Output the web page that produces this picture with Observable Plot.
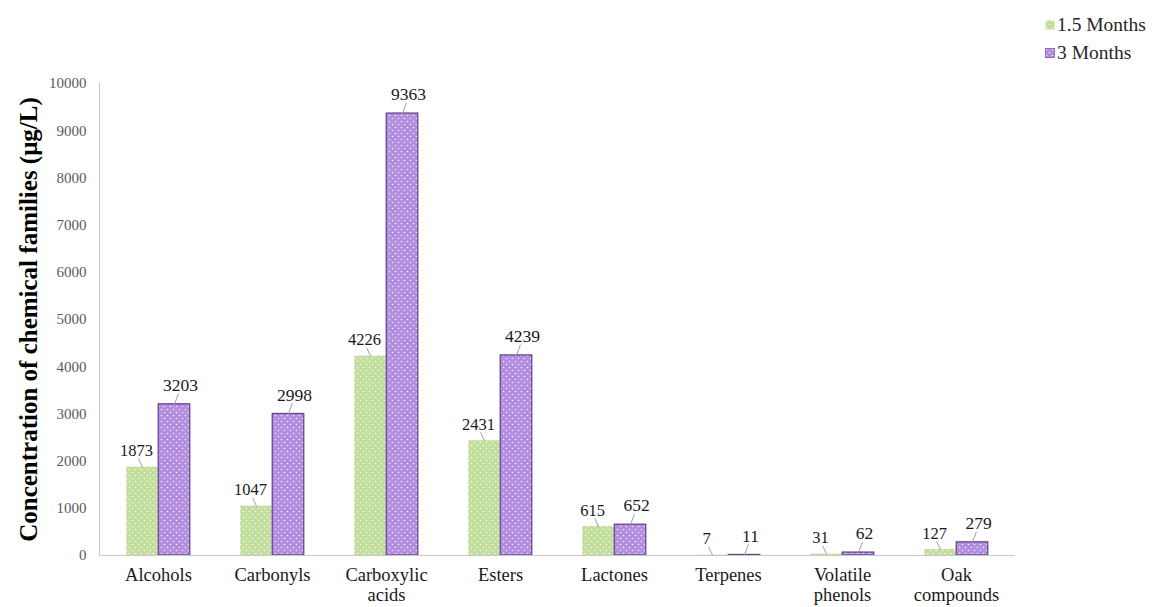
<!DOCTYPE html>
<html>
<head>
<meta charset="utf-8">
<script src="https://cdn.jsdelivr.net/npm/d3@7"></script>
<script src="https://cdn.jsdelivr.net/npm/@observablehq/plot@0.6"></script>
<style>
  body { margin: 0; background: #fff; font-family: "Liberation Serif", "Times New Roman", serif; }
  #wrap { position: relative; width: 1158px; height: 607px; }
  #legend { position: absolute; left: 1045px; top: 11px; font-size: 19.5px; color: #262626; }
  .item { display: flex; align-items: center; height: 28px; }
  .item svg { margin-right: 2px; }
</style>
</head>
<body>
<!-- dotted fills shared by the bars and the legend swatches -->
<svg width="0" height="0" style="position:absolute">
  <defs>
    <pattern id="dotsGreen" width="6" height="6" patternUnits="userSpaceOnUse">
      <rect width="6" height="6" fill="#c2de9c"/>
      <circle cx="1.5" cy="1.5" r="0.8" fill="#fff" fill-opacity="0.85"/>
      <circle cx="4.5" cy="4.5" r="0.8" fill="#fff" fill-opacity="0.85"/>
    </pattern>
    <pattern id="dotsPurple" width="6" height="6" patternUnits="userSpaceOnUse">
      <rect width="6" height="6" fill="#b38de0"/>
      <circle cx="1.5" cy="1.5" r="0.8" fill="#fff" fill-opacity="0.8"/>
      <circle cx="4.5" cy="4.5" r="0.8" fill="#fff" fill-opacity="0.8"/>
    </pattern>
  </defs>
</svg>
<div id="wrap">
  <div id="chart"></div>
  <div id="legend"></div>
</div>
<script>
// Volatile compound families and their concentrations (µg/L)
const categories = ["Alcohols", "Carbonyls", "Carboxylic\nacids", "Esters", "Lactones", "Terpenes", "Volatile\nphenols", "Oak\ncompounds"];
const seriesNames = ["1.5 Months", "3 Months"];
const months15 = [1873, 1047, 4226, 2431, 615, 7, 31, 127];
const months3 = [3203, 2998, 9363, 4239, 652, 11, 62, 279];
const yTicks = [0, 1000, 2000, 3000, 4000, 5000, 6000, 7000, 8000, 9000, 10000];
const yTitle = "Concentration of chemical families (μg/L)";

const green = categories.map((c, i) => ({category: c, series: seriesNames[0], value: months15[i]}));
const purple = categories.map((c, i) => ({category: c, series: seriesNames[1], value: months3[i]}));

// a plain stroke from the bar top toward its value label
const leader = {draw(context, l) { context.moveTo(0, 0); context.lineTo(0, -l); }};

const half = 16; // half of a bar's width: each pair sits side by side in its band

const chart = Plot.plot({
  width: 1158,
  height: 607,
  marginLeft: 99,
  marginRight: 143,
  marginTop: 83,
  marginBottom: 52,
  style: {fontFamily: "'Liberation Serif', 'Times New Roman', serif", fontSize: "15px", background: "#fff", color: "#000"},
  x: {domain: categories, padding: 0, axis: null},
  y: {domain: [0, 10000], axis: null},
  marks: [
    Plot.frame({anchor: "left", stroke: "#c4c4d2"}),
    Plot.axisY({ticks: yTicks, tickFormat: d => String(d), tickSize: 0, tickPadding: 13, fontSize: 15, fill: "#595959", label: null}),
    Plot.axisX({tickSize: 0, tickPadding: 12, fontSize: 18.5, lineHeight: 1.05, fill: "#1a1a1a", label: null}),
    Plot.text([yTitle], {frameAnchor: "left", dx: -71, rotate: -90, textAnchor: "middle", fontSize: 25, fontWeight: "bold", fill: "#000"}),
    Plot.barY(green, {x: "category", y: "value", dx: -half, insetLeft: 41.25, insetRight: 41.25, fill: "url(#dotsGreen)"}),
    Plot.barY(purple, {x: "category", y: "value", dx: half, insetLeft: 41.25, insetRight: 41.25, fill: "url(#dotsPurple)", stroke: "#65478c", strokeWidth: 1.3}),
    Plot.ruleY([0], {stroke: "#c8c8cc", strokeWidth: 1}),
    Plot.vector(green, {x: "category", y: "value", dx: -half, length: 9, rotate: -25, anchor: "start", shape: leader, stroke: "#9e9e9e", strokeWidth: 0.9}),
    Plot.vector(purple, {x: "category", y: "value", dx: half, length: 11, rotate: 20, anchor: "start", shape: leader, stroke: "#9e9e9e", strokeWidth: 0.9}),
    Plot.text(green, {x: "category", y: "value", text: d => String(d.value), dx: -half - 6, dy: -16, fontSize: 16.5, fill: "#1a1a1a"}),
    Plot.text(purple, {x: "category", y: "value", text: d => String(d.value), dx: half + 6, dy: -19, fontSize: 17.5, fill: "#1a1a1a"})
  ]
});
document.getElementById("chart").append(chart);

// legend in the upper right corner
const legend = document.getElementById("legend");
[["dotsGreen", seriesNames[0]], ["dotsPurple", seriesNames[1]]].forEach(([pat, name]) => {
  const item = document.createElement("div");
  item.className = "item";
  item.innerHTML = `<svg width="10" height="10"><rect x="0.5" y="0.5" width="9" height="9" fill="url(#${pat})" ${pat === "dotsPurple" ? 'stroke="#7a5aa6" stroke-width="0.8"' : ""}/></svg><span>${name}</span>`;
  legend.append(item);
});
</script>
</body>
</html>
